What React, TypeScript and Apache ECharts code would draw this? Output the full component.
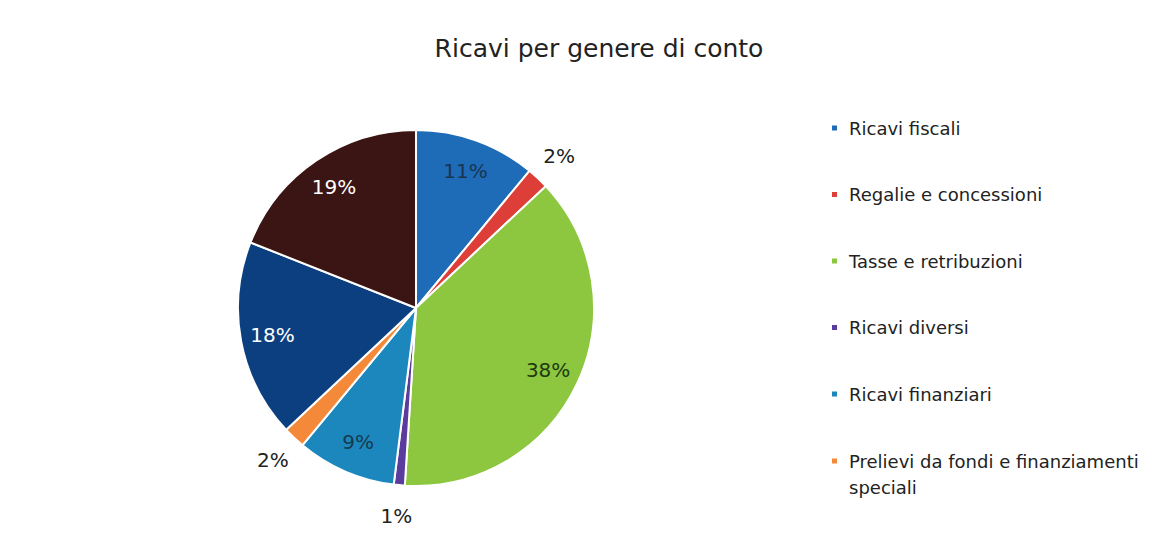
import React, { useEffect, useRef } from "react";
import * as echarts from "echarts";

const title = "Ricavi per genere di conto";
const categories = [
  "Ricavi fiscali",
  "Regalie e concessioni",
  "Tasse e retribuzioni",
  "Ricavi diversi",
  "Ricavi finanziari",
  "Prelievi da fondi e finanziamenti speciali",
  "Altro A",
  "Altro B",
];
const values = [11, 2, 38, 1, 9, 2, 18, 19];
const colors = ["#1E6BB8", "#DD3F38", "#8DC63F", "#5A3C9E", "#1B87BD", "#F5893A", "#0C3F80", "#3B1414"];
const innerLabelColors = ["#1a3550", "", "#203a10", "", "#173a50", "", "#ffffff", "#ffffff"];
const legendCount = 6;

export default function App() {
  const ref = useRef<HTMLDivElement>(null);
  useEffect(() => {
    document.body.style.margin = "0";
    const chart = echarts.init(ref.current!, null, { renderer: "svg" });
    const font = "DejaVu Sans";
    const cx = 416;
    const cy = 308;
    const R = 178;
    const isSmall = (v: number) => v <= 2;
    const textBase = { fontFamily: font, fontSize: 18, color: "#222", lineHeight: 26, padding: [0, 0, 0, 6] };
    const legendBase = {
      orient: "vertical",
      left: 825,
      padding: 5,
      icon: "rect",
      itemWidth: 7,
      itemHeight: 7,
      selectedMode: false,
      textStyle: textBase,
    };
    chart.setOption({
      animation: false,
      backgroundColor: "#ffffff",
      title: {
        text: title,
        left: 594,
        top: 31,
        textAlign: "center",
        textStyle: { fontFamily: font, fontSize: 25, fontWeight: "normal", color: "#222" },
      },
      legend: [
        {
          ...legendBase,
          top: 110,
          height: 420,
          itemGap: 40.5,
          data: categories.slice(0, legendCount - 1),
        },
        {
          ...legendBase,
          top: 417,
          formatter: () => " \nPrelievi da fondi e finanziamenti\nspeciali",
          data: categories.slice(legendCount - 1, legendCount),
        },
      ],
      series: [
        {
          type: "pie",
          center: [cx, cy],
          radius: R,
          startAngle: 90,
          clockwise: true,
          silent: true,
          label: { show: false },
          labelLine: { show: false },
          itemStyle: { borderColor: "#ffffff", borderWidth: 2 },
          data: categories.map((n, i) => ({ name: n, value: values[i], itemStyle: { color: colors[i] } })),
        },
        {
          type: "pie",
          center: [cx, cy],
          radius: [0, 2 * 143],
          startAngle: 90,
          clockwise: true,
          silent: true,
          itemStyle: { color: "rgba(0,0,0,0)" },
          labelLine: { show: false },
          label: {
            show: true,
            position: "inside",
            formatter: "{c}%",
            fontFamily: font,
            fontSize: 20,
          },
          data: categories.map((n, i) => ({
            name: n + " ",
            value: values[i],
            label: { show: !isSmall(values[i]), color: innerLabelColors[i] || "#000" },
          })),
        },
        {
          type: "pie",
          center: [cx, cy],
          radius: [0, 2 * 206],
          startAngle: 90,
          clockwise: true,
          silent: true,
          itemStyle: { color: "rgba(0,0,0,0)" },
          labelLine: { show: false },
          label: {
            show: true,
            position: "inside",
            formatter: "{c}%",
            fontFamily: font,
            fontSize: 20,
            color: "#222",
          },
          data: categories.map((n, i) => ({
            name: n + "  ",
            value: values[i],
            label: { show: isSmall(values[i]) },
          })),
        },
      ],
    });
    return () => chart.dispose();
  }, []);
  return <div ref={ref} style={{ width: 1172, height: 535 }} />;
}
